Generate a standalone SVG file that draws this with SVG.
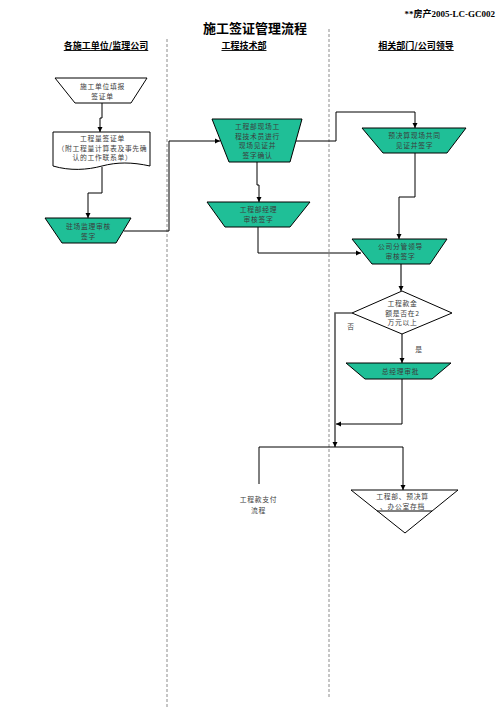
<svg xmlns="http://www.w3.org/2000/svg" width="503" height="726" viewBox="0 0 503 726">
<style>
.bg{fill:#fff}
.sep{stroke:#8c8c8c;stroke-width:1;stroke-dasharray:3,2;fill:none}
.box{fill:#fff;stroke:#000;stroke-width:1}
.grn{fill:#1fbf97;stroke:#000;stroke-width:1}
.t{font-family:"Noto Sans CJK SC","Noto Sans",sans-serif;font-size:6.8px;letter-spacing:0.7px;fill:#3c3c3c;text-anchor:middle}
.h{font-family:"Noto Sans CJK SC",sans-serif;font-size:9px;font-weight:bold;fill:#000;text-anchor:middle;text-decoration:underline}
.c{fill:none;stroke:#000;stroke-width:1}
.cg{fill:none;stroke:#555;stroke-width:1.6}
</style>
<defs>
<marker id="ah" markerUnits="userSpaceOnUse" markerWidth="6" markerHeight="6" refX="5" refY="3" orient="auto">
<path d="M0,0.5 L5,3 L0,5.5 Z" fill="#000"/>
</marker>
</defs>
<rect class="bg" x="0" y="0" width="503" height="726"/>
<text x="495" y="17" font-family="Liberation Serif, Noto Sans CJK SC, serif" font-size="9" font-weight="bold" text-anchor="end">**房产2005-LC-GC002</text>
<text x="255" y="33" font-family="Noto Sans CJK SC, sans-serif" font-size="13" font-weight="bold" text-anchor="middle">施工签证管理流程</text>
<text class="h" x="106" y="49">各施工单位/监理公司</text>
<text class="h" x="244" y="49">工程技术部</text>
<text class="h" x="416" y="49">相关部门/公司领导</text>
<line class="sep" x1="167" y1="39" x2="167" y2="708"/>
<line class="sep" x1="329" y1="29" x2="329" y2="697"/>
<g id="connectors">
<polyline class="c" points="102,103 102,118 100,118 100,132" marker-end="url(#ah)"/>
<polyline class="c" points="102,167 102,193 88,193 88,218" marker-end="url(#ah)"/>
<polyline class="c" points="124,231 169,231 169,141 220,141" marker-end="url(#ah)"/>
<polyline class="c" points="296,141 336,141 336,112 415,112 415,128" marker-end="url(#ah)"/>
<polyline class="c" points="257,162 257,185 259,185 259,202" marker-end="url(#ah)"/>
<polyline class="c" points="258,227 258,253 361,253" marker-end="url(#ah)"/>
<polyline class="c" points="415,153 415,197 399,197 399,239" marker-end="url(#ah)"/>
<polyline class="cg" points="401,264 401,291" marker-end="url(#ah)"/>
<polyline class="cg" points="402,334 402,363" marker-end="url(#ah)"/>
<polyline class="cg" points="352,313 335,313 335,447" marker-end="url(#ah)"/>
<polyline class="c" points="402,379 402,424 336,424" marker-end="url(#ah)"/>
<polyline class="c" points="259,484 259,447 403,447 403,490" marker-end="url(#ah)"/>
<text class="t" x="351" y="329">否</text>
<text class="t" x="419" y="352">是</text>
</g>
<g id="n1">
<polygon class="box" points="55,78 147,78 131,103 75,103"/>
<text class="t" x="102.4" y="89">施工单位填报</text>
<text class="t" x="102.4" y="99">签证单</text>
</g>
<g id="n2">
<path class="box" d="M53,132 H150 V166 C132,162 117,162 102,166 C87,170 70,171 53,166 Z"/>
<text class="t" x="102.4" y="141">工程量签证单</text>
<text class="t" x="102.4" y="150.5">（附工程量计算表及事先确</text>
<text class="t" x="102.4" y="160">认的工作联系单）</text>
</g>
<g id="n3">
<polygon class="grn" points="45,218 131,218 116,243 62,243"/>
<text class="t" x="88.4" y="229">驻场监理审核</text>
<text class="t" x="88.4" y="239">签字</text>
</g>
<g id="n4">
<polygon class="grn" points="212,119 302,119 290,162 229,162"/>
<text class="t" x="257.4" y="129">工程部现场工</text>
<text class="t" x="257.4" y="138.5">程技术员进行</text>
<text class="t" x="257.4" y="148">现场见证并</text>
<text class="t" x="257.4" y="157.5">签字确认</text>
</g>
<g id="n5">
<polygon class="grn" points="362,128 466,128 447,153 383,153"/>
<text class="t" x="414.4" y="138">预决算现场共同</text>
<text class="t" x="414.4" y="147.5">见证并签字</text>
</g>
<g id="n6">
<polygon class="grn" points="207,202 310,202 290,227 225,227"/>
<text class="t" x="258.4" y="212">工程部经理</text>
<text class="t" x="258.4" y="221.5">审核签字</text>
</g>
<g id="n7">
<polygon class="grn" points="352,239 447,239 430,264 372,264"/>
<text class="t" x="400.4" y="249">公司分管领导</text>
<text class="t" x="400.4" y="258.5">审核签字</text>
</g>
<g id="n8">
<polygon class="box" points="402,291 452,313 402,334 352,313"/>
<text class="t" x="402.4" y="306">工程款金</text>
<text class="t" x="402.4" y="315.5">额是否在2</text>
<text class="t" x="402.4" y="325">万元以上</text>
</g>
<g id="n9">
<polygon class="grn" points="346,363 451,363 432,379 365,379"/>
<text class="t" x="400.4" y="373.5">总经理审批</text>
</g>
<g id="n10">
<text class="t" x="258.4" y="502">工程款支付</text>
<text class="t" x="258.4" y="513">流程</text>
</g>
<g id="n11">
<polygon class="box" points="351,490 458,490 405,533"/>
<line class="c" x1="377" y1="511" x2="432" y2="511"/>
<text class="t" x="402.4" y="499">工程部、预决算</text>
<text class="t" x="402.4" y="508.5">、办公室存档</text>
</g>
</svg>
